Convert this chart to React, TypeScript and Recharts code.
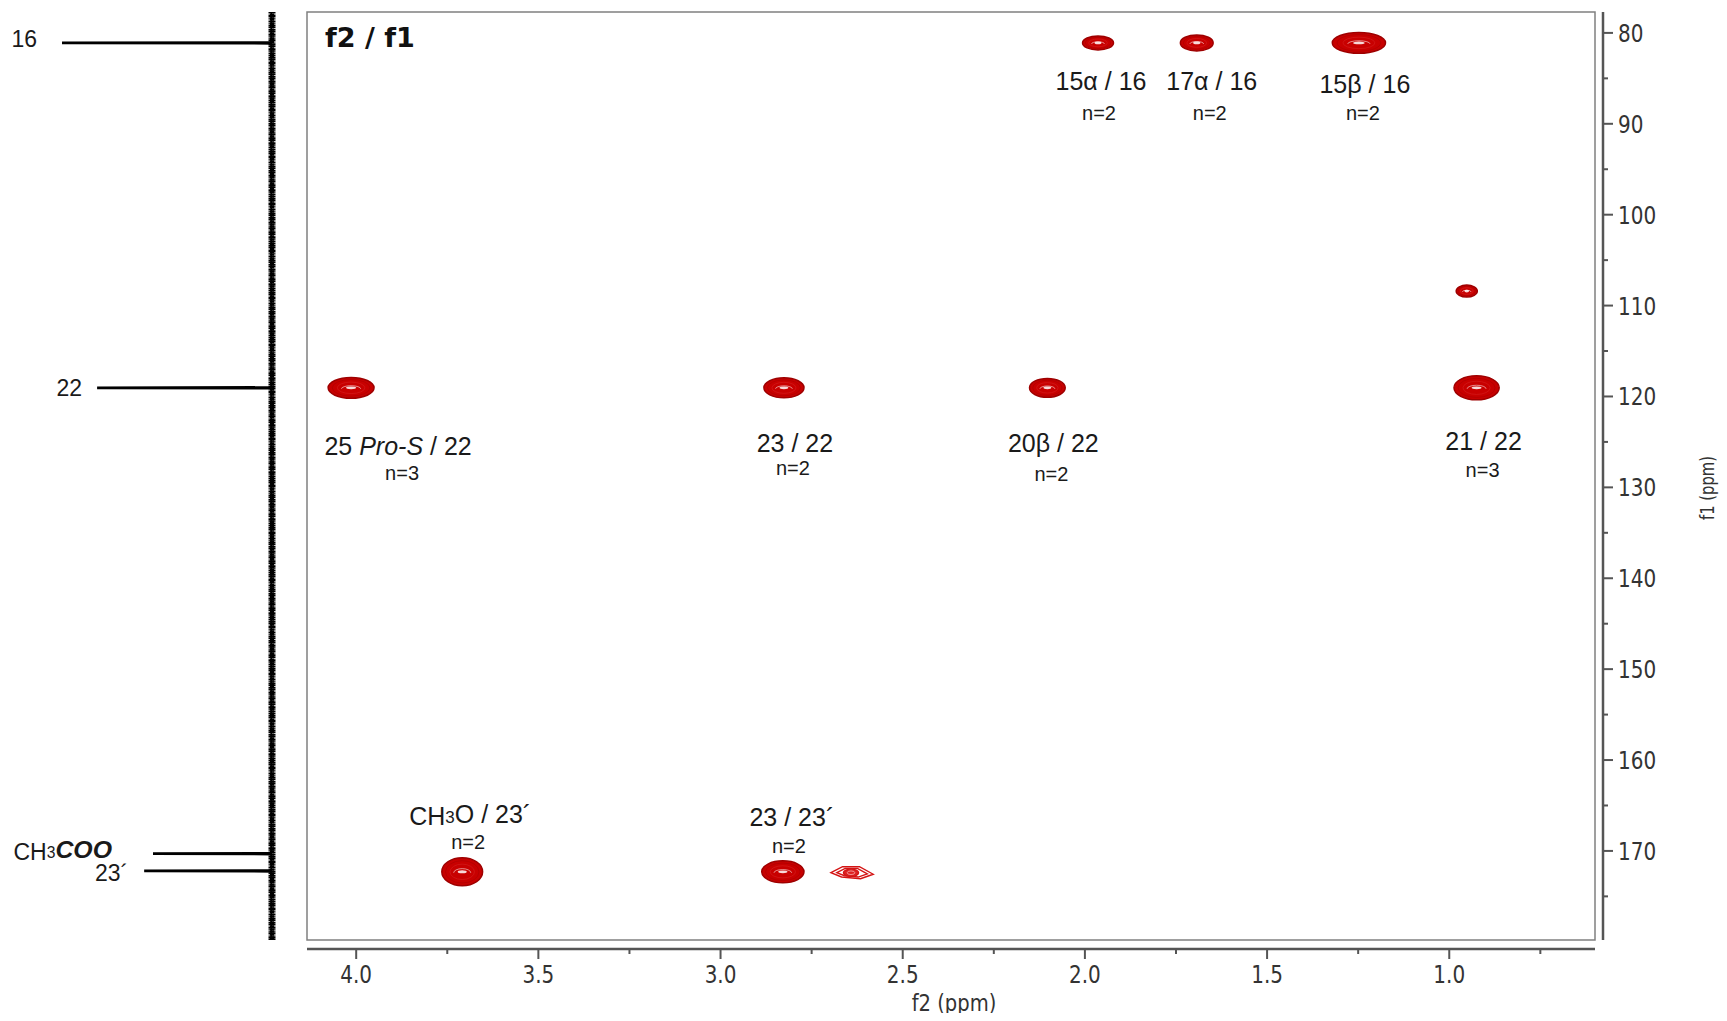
import React from 'react'
import {
  ComposedChart, LineChart, Line, Scatter, XAxis, YAxis,
  ReferenceArea, ReferenceDot, ReferenceLine,
} from 'recharts'

// HMBC cross peaks: f2 = 1H shift, f1 = 13C shift (ppm)
const peakF2 = [1.964, 1.693, 1.248, 0.952, 4.014, 2.826, 2.103, 0.925, 3.709, 2.829, 2.639]
const peakF1 = [81.1, 81.1, 81.1, 108.4, 119.05, 119.05, 119.05, 119.05, 172.3, 172.3, 172.4]
// half extent of the outer contour (ppm)
const peakHalfF2 = [0.0425, 0.045, 0.073, 0.029, 0.063, 0.055, 0.049, 0.062, 0.056, 0.058, 0.058]
const peakHalfF1 = [0.77, 0.88, 1.15, 0.66, 1.15, 1.1, 1.04, 1.32, 1.54, 1.21, 0.66]
const peakLabels = ['15α / 16', '17α / 16', '15β / 16', '', '25 Pro-S / 22', '23 / 22', '20β / 22', '21 / 22', 'CH3O / 23´', '23 / 23´', '']
const peakCounts = ['n=2', 'n=2', 'n=2', '', 'n=3', 'n=2', 'n=2', 'n=3', 'n=2', 'n=2', '']

// 13C projection on the left
const projShift = [81.1, 119.05, 170.3, 172.2]
const projIntensity = [0.772, 0.643, 0.4375, 0.47]
const projLabels = ['16', '22', 'CH3COO', '23´']

const f2Ticks = [4.0, 3.75, 3.5, 3.25, 3.0, 2.75, 2.5, 2.25, 2.0, 1.75, 1.5, 1.25, 1.0, 0.75]
const f1Ticks = [80, 85, 90, 95, 100, 105, 110, 115, 120, 125, 130, 135, 140, 145, 150, 155, 160, 165, 170, 175]

const F2_DOMAIN = [0.6, 4.135]
const F1_DOMAIN = [77.7, 179.8]

// label placement relative to contour centre: [dxTitle, dyTitle, dxCount, dyCount]
const LABEL_POS: any[] = [
  [3, 38, 1, 70], [15, 38, 13, 70], [6, 41, 4, 70], null,
  [47, 58, 51, 85], [11, 55, 9, 80], [6, 55, 4, 86], [7, 53, 6, 82],
  [8, -56, 6, -30], [9, -55, 6, -26], null,
]
const OPEN_PEAKS = [10]
// projection labels: [right edge offset from peak tip, dy]
const PROJ_LABEL_POS = [[-25, -4], [-15, 0], [-41, -2], [-16, 2]]

const RED = '#c80000'
const SANS = '"Liberation Sans", Arial, sans-serif'
const VERD = '"DejaVu Sans", Verdana, sans-serif'

const peakData = peakF2.map((f2, k) => ({ f2, f1: peakF1[k], idx: k }))

const specData: { f1: number; i: number }[] = [{ f1: F1_DOMAIN[0], i: 0 }]
projShift.forEach((s, k) => {
  specData.push({ f1: s - 0.05, i: 0 }, { f1: s, i: projIntensity[k] }, { f1: s + 0.05, i: 0 })
})
specData.push({ f1: F1_DOMAIN[1], i: 0 })

function richText(s: string, fs: number) {
  return s.split(/(CH3|Pro-S|COO)/).filter(Boolean).map((part, k) => {
    if (part === 'CH3')
      return (
        <React.Fragment key={k}>
          <tspan>CH</tspan>
          <tspan fontSize={fs * 0.68} dy={-2}>3</tspan>
          <tspan dy={2}>{''}</tspan>
        </React.Fragment>
      )
    if (part === 'Pro-S') return <tspan key={k} fontStyle="italic">{part}</tspan>
    if (part === 'COO') return <tspan key={k} fontStyle="italic" fontWeight="bold" fontSize={fs * 1.08}>{part}</tspan>
    return <tspan key={k}>{part}</tspan>
  })
}

function Contour(props: any) {
  const { x, y, width, height, idx } = props
  const cx = x + width / 2
  const cy = y + height / 2
  const rx = width / 2
  const ry = height / 2
  if (OPEN_PEAKS.includes(idx)) {
    const lens = (s: number) =>
      `M${cx - rx * s},${cy} L${cx - rx * 0.45 * s},${cy - ry * s} L${cx + rx * 0.35 * s},${cy - ry * s} ` +
      `L${cx + rx * s},${cy + ry * 0.25 * s} L${cx + rx * 0.4 * s},${cy + ry * s} L${cx - rx * 0.5 * s},${cy + ry * 0.7 * s} Z`
    return (
      <g fill="none" stroke="#d41414" strokeWidth={1.4}>
        <path d={lens(1)} />
        <path d={lens(0.72)} />
        <ellipse cx={cx - rx * 0.05} cy={cy} rx={rx * 0.36} ry={ry * 0.6} fill="#dd2222" />
        <ellipse cx={cx - rx * 0.05} cy={cy} rx={rx * 0.18} ry={ry * 0.3} stroke="#f5b0b0" strokeWidth={0.8} />
      </g>
    )
  }
  return (
    <g>
      <ellipse cx={cx} cy={cy} rx={rx} ry={ry} fill={RED} stroke="#9e0000" strokeWidth={1.5} />
      <ellipse cx={cx} cy={cy} rx={rx * 0.82} ry={ry * 0.8} fill="none" stroke="#b00000" strokeWidth={0.8} />
      <ellipse cx={cx} cy={cy} rx={rx * 0.6} ry={ry * 0.55} fill="none" stroke="#d01818" strokeWidth={0.8} />
      <path
        d={`M${cx - rx * 0.42},${cy + 1} A${rx * 0.42},${ry * 0.3} 0 0 1 ${cx + rx * 0.42},${cy + 1}`}
        fill="none" stroke="#f4c4c4" strokeWidth={0.7}
      />
      <ellipse cx={cx} cy={cy} rx={rx * 0.22} ry={Math.max(ry * 0.11, 1.4)} fill="#fff" fillOpacity={0.85} />
    </g>
  )
}

function PeakLabel(props: any) {
  const { cx, cy, payload } = props
  const idx = payload.idx
  const pos = LABEL_POS[idx]
  if (!pos) return <g />
  return (
    <g fill="#1a1a1a" fontFamily={SANS}>
      <text x={cx + pos[0]} y={cy + pos[1] + 9} fontSize={25} textAnchor="middle">
        {richText(peakLabels[idx], 25)}
      </text>
      <text x={cx + pos[2]} y={cy + pos[3] + 7} fontSize={20} textAnchor="middle">
        {peakCounts[idx]}
      </text>
    </g>
  )
}

function F2Tick(props: any) {
  const { x, y, payload } = props
  const v = payload.value
  const major = Math.abs(v * 2 - Math.round(v * 2)) < 1e-6
  return (
    <g>
      <line x1={x} x2={x} y1={y + 9} y2={y + (major ? 19 : 14)} stroke="#555" strokeWidth={2} />
      {major && (
        <text transform={`translate(${x} ${y + 43}) scale(0.8 1)`} textAnchor="middle" fontFamily={VERD} fontSize={25} fill="#333">
          {v.toFixed(1)}
        </text>
      )}
    </g>
  )
}

function F1Tick(props: any) {
  const { x, y, payload } = props
  const v = payload.value
  const major = v % 10 === 0
  return (
    <g>
      <line x1={x + 8} x2={x + (major ? 18 : 13)} y1={y} y2={y} stroke="#555" strokeWidth={2} />
      {major && (
        <text transform={`translate(${x + 23} ${y + 9}) scale(0.8 1)`} textAnchor="start" fontFamily={VERD} fontSize={25} fill="#333">
          {v}
        </text>
      )}
    </g>
  )
}

function ProjLabel(props: any) {
  const { cx, cy, idx } = props
  const [dx, dy] = PROJ_LABEL_POS[idx]
  return (
    <text x={cx + dx} y={cy + dy + 8} textAnchor="end" fontFamily={SANS} fontSize={23} fill="#1a1a1a">
      {richText(projLabels[idx], 23)}
    </text>
  )
}

export default function App() {
  return (
    <div style={{ position: 'relative', width: 1727, height: 1021, margin: -8, background: '#fff', overflow: 'hidden' }}>
      {/* 13C projection */}
      <div style={{ position: 'absolute', left: 0, top: 0 }}>
        <LineChart width={300} height={1021} data={specData} margin={{ top: 12, right: 28, bottom: 81, left: 0 }}>
          <XAxis type="number" dataKey="i" domain={[0, 1]} reversed hide allowDataOverflow />
          <YAxis type="number" domain={F1_DOMAIN} reversed hide allowDataOverflow />
          <ReferenceLine x={0} stroke="#000" strokeWidth={7} strokeDasharray="1.4 0.4 2 0.6 0.8 0.5 1.6 0.3 1.1 0.7" />
          <ReferenceLine x={0} stroke="#000" strokeWidth={4} strokeDasharray="2.2 0.3 1.3 0.4 3 0.3" />
          <Line dataKey="f1" stroke="#000" strokeWidth={2.6} dot={false} type="linear" isAnimationActive={false} />
          {projShift.map((s, k) => (
            <ReferenceDot key={k} x={projIntensity[k]} y={s} r={0} shape={(p: any) => <ProjLabel {...p} idx={k} />} />
          ))}
        </LineChart>
      </div>

      {/* 2D map */}
      <div style={{ position: 'absolute', left: 0, top: 0 }}>
        <ComposedChart width={1727} height={1021} data={peakData} margin={{ top: 12, right: 2, bottom: 0, left: 307 }}>
          <XAxis
            type="number"
            dataKey="f2"
            domain={F2_DOMAIN}
            reversed
            allowDataOverflow
            ticks={f2Ticks}
            interval={0}
            height={81}
            tickSize={0}
            tickMargin={0}
            tickLine={false}
            tick={<F2Tick />}
            axisLine={{ stroke: '#555', strokeWidth: 2.5, transform: 'translate(0 9)' }}
            label={{
              content: (p: any) => (
                <text transform={`translate(${p.viewBox.x + p.viewBox.width / 2 + 3} ${p.viewBox.y + 71}) scale(0.85 1)`} textAnchor="middle" fontFamily={VERD} fontSize={23} fill="#333">
                  f2 (ppm)
                </text>
              ),
            }}
          />
          <YAxis
            type="number"
            dataKey="f1"
            orientation="right"
            domain={F1_DOMAIN}
            reversed
            allowDataOverflow
            ticks={f1Ticks}
            interval={0}
            width={130}
            tickSize={0}
            tickMargin={0}
            tickLine={false}
            tick={<F1Tick />}
            axisLine={{ stroke: '#555', strokeWidth: 2.5, transform: 'translate(8 0)' }}
            label={{
              content: (p: any) => {
                const lx = p.viewBox.x + p.viewBox.width - 11
                const ly = 488
                return (
                  <text transform={`translate(${lx} ${ly}) rotate(-90) scale(0.74 1)`} textAnchor="middle" fontFamily={VERD} fontSize={20} fill="#333">
                    f1 (ppm)
                  </text>
                )
              },
            }}
          />
          <ReferenceArea x1={F2_DOMAIN[1]} x2={F2_DOMAIN[0]} y1={F1_DOMAIN[0]} y2={F1_DOMAIN[1]} fill="none" fillOpacity={0} stroke="#808080" strokeWidth={1.5} ifOverflow="visible" />
          {peakF2.map((f2, k) => (
            <ReferenceArea
              key={k}
              x1={f2 - peakHalfF2[k]}
              x2={f2 + peakHalfF2[k]}
              y1={peakF1[k] - peakHalfF1[k]}
              y2={peakF1[k] + peakHalfF1[k]}
              ifOverflow="visible"
              shape={(p: any) => <Contour {...p} idx={k} />}
            />
          ))}
          <Scatter dataKey="f1" isAnimationActive={false} shape={(p: any) => <PeakLabel {...p} />} />
        </ComposedChart>
      </div>

      <div style={{ position: 'absolute', left: 325, top: 24, fontFamily: VERD, fontWeight: 'bold', fontSize: 27, lineHeight: 1, color: '#111' }}>
        f2 / f1
      </div>
    </div>
  )
}
